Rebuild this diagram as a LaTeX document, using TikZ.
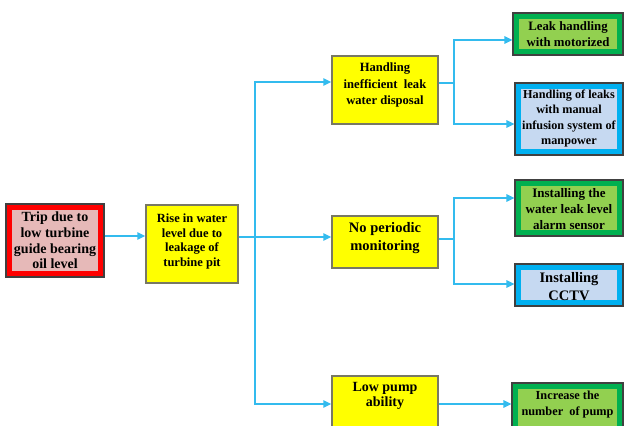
\documentclass[tikz,border=0pt]{standalone}
\usepackage{fontspec}
\setmainfont{Liberation Serif}
\usetikzlibrary{arrows.meta}
\definecolor{arrblue}{RGB}{51,187,238}
\definecolor{yel}{RGB}{255,255,0}
\definecolor{redo}{RGB}{255,0,0}
\definecolor{pinki}{RGB}{230,185,184}
\definecolor{greeno}{RGB}{0,176,80}
\definecolor{greeni}{RGB}{146,208,80}
\definecolor{blueo}{RGB}{0,176,240}
\definecolor{bluei}{RGB}{198,217,241}
\definecolor{edgec}{RGB}{64,64,64}
\definecolor{yedge}{RGB}{120,120,100}
\begin{document}
\begin{tikzpicture}[x=1pt,y=-1pt,
 box/.style args={#1x#2}{rectangle, minimum width=#1pt, minimum height=#2pt, inner sep=0pt, line width=1.1pt},
 ybox/.style={draw=yedge, line width=1.4pt, fill=yel},
 dbox/.style 2 args={draw=edgec, fill=#1, path picture={\fill[#2] ([shift={(6,6)}]path picture bounding box.north west) rectangle ([shift={(-6,-6)}]path picture bounding box.south east);}},
 txt/.style={align=center, text=black},
 arr/.style={draw=arrblue, line width=1.4pt, -{Triangle[length=8pt,width=7.5pt]}},
 ln/.style={draw=arrblue, line width=1.4pt}]
\useasboundingbox (0,0) rectangle (625,426);
\clip (0,0) rectangle (625,426);

% nodes
\node[box=98x73, dbox={redo}{pinki}] (trip) at (55,240.5) {};
\node[txt, font=\bfseries\fontsize{14}{15.7}\selectfont] (tript) at (55,240.5) {Trip due to\\low turbine\\guide bearing\\oil level};

\node[box=92x78, ybox] (rise) at (192,244) {};
\node[txt, font=\bfseries\fontsize{12.5}{14.5}\selectfont] (riset) at (192,241.5) {Rise in water\\level due to\\leakage of\\turbine pit};

\node[box=106x68, ybox] (hand) at (385,90) {};
\node[txt, font=\bfseries\fontsize{12.6}{16.3}\selectfont] (handt) at (385,85) {Handling\\inefficient~ leak\\water disposal};

\node[box=106x52, ybox] (nop) at (385,242) {};
\node[txt, font=\bfseries\fontsize{14.5}{18.5}\selectfont] (nopt) at (385,238) {No periodic\\monitoring};

\node[box=106x66, ybox] (low) at (385,409) {};
\node[txt, font=\bfseries\fontsize{14}{15.5}\selectfont] (lowt) at (385,396) {Low pump\\ability};

\node[box=110x42, dbox={greeno}{greeni}] (lh) at (568,34) {};
\node[txt, font=\bfseries\fontsize{12.8}{16.7}\selectfont] (lht) at (568,34) {Leak handling\\with motorized};

\node[box=108x72, dbox={blueo}{bluei}] (hm) at (569,119) {};
\node[txt, font=\bfseries\fontsize{12.2}{15.2}\selectfont] (hmt) at (569,118.5) {Handling of leaks\\with manual\\infusion system of\\manpower};

\node[box=108x56, dbox={greeno}{greeni}] (iw) at (569,208) {};
\node[txt, font=\bfseries\fontsize{13}{16}\selectfont] (iwt) at (569,209) {Installing the\\water leak level\\alarm sensor};

\node[box=108x42, dbox={blueo}{bluei}] (cc) at (569,285) {};
\node[txt, font=\bfseries\fontsize{14.5}{18.7}\selectfont] (cct) at (569,286.5) {Installing\\CCTV};

\node[box=111x60, dbox={greeno}{greeni}] (inc) at (567.5,413) {};
\node[txt, font=\bfseries\fontsize{12.3}{16}\selectfont] (inct) at (567.5,405) {Increase the\\number~ of pump};

% connectors
\draw[arr] (trip.east |- 0,236) -- (rise.west |- 0,236);
\coordinate (j1) at (255,237);
\draw[ln] (rise.east |- j1) -- (j1);
\draw[arr] (j1) |- (hand.west |- 0,82);
\draw[arr] (j1) -- (nop.west |- j1);
\draw[arr] (j1) |- (low.west |- 0,404);
\coordinate (j2) at (454,83);
\draw[ln] (hand.east |- j2) -- (j2);
\draw[arr] (j2) |- (lh.west |- 0,40);
\draw[arr] (j2) |- (hm.west |- 0,124);
\coordinate (j3) at (454,239);
\draw[ln] (nop.east |- j3) -- (j3);
\draw[arr] (j3) |- (iw.west |- 0,198);
\draw[arr] (j3) |- (cc.west |- 0,284);
\draw[arr] (low.east |- 0,404) -- (inc.west |- 0,404);
\end{tikzpicture}
\end{document}
